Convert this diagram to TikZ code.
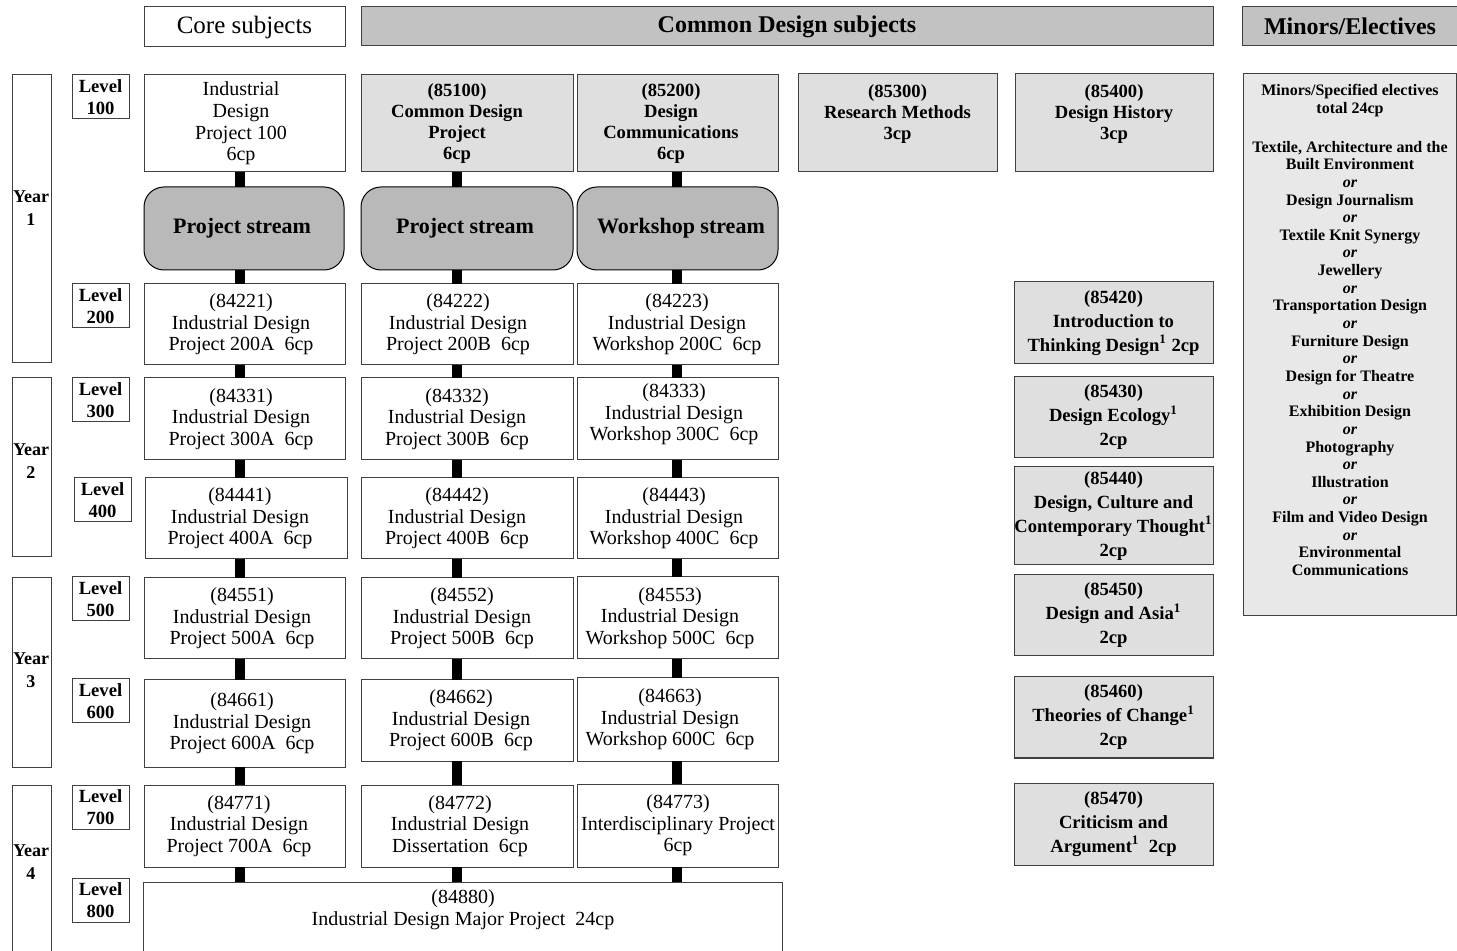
\documentclass[tikz,border=0pt]{standalone}
\usepackage{fontspec}
\setmainfont{Liberation Serif}
\begin{document}
\tikzset{
 base/.style={draw=black!75, line width=0.5pt, inner sep=0pt, outer sep=0pt, align=center, text=black},
 wbox/.style={base, fill=white, font=\fontsize{10}{10.8}\selectfont},
 gbox/.style={base, fill=gray!25, font=\bfseries\fontsize{9.3}{10.5}\selectfont},
 ebox/.style={base, fill=gray!25, font=\bfseries\fontsize{9.3}{12}\selectfont},
 streambox/.style={base, draw=black, fill=gray!55, rounded corners=10pt, font=\bfseries\fontsize{11}{13}\selectfont},
 levelbox/.style={base, fill=white, font=\bfseries\fontsize{9.3}{11}\selectfont},
 yearbox/.style={base, fill=white},
 yeartext/.style={inner sep=0pt, align=center, font=\bfseries\fontsize{9}{11.5}\selectfont},
 hwhite/.style={base, fill=white, font=\fontsize{12.5}{14}\selectfont},
 hgray/.style={base, fill=gray!48, font=\bfseries\fontsize{12}{14}\selectfont},
 minorbox/.style={base, fill=gray!18},
 minortext/.style={inner sep=0pt, align=center, font=\bfseries\fontsize{8}{8.82}\selectfont},
 boxtext/.style={inner sep=0pt, align=center},
 bar/.style={line width=5pt, black, line cap=butt},
}
% box with centred text
\newcommand\bx[7]{\node[#2, minimum width={(#5-#3)*0.5pt}, minimum height={(#6-#4)*0.5pt}] (#1) at ({(#3+#5)/2},{(#4+#6)/2}) {#7};}
% box with text centred at a given x
\newcommand\bxt[8]{\node[#2, minimum width={(#5-#3)*0.5pt}, minimum height={(#6-#4)*0.5pt}] (#1) at ({(#3+#5)/2},{(#4+#6)/2}) {};
 \node[#2, boxtext, draw=none, fill=none] (#1t) at (#7,{(#4+#6)/2}) {#8};}
\begin{tikzpicture}[x=0.5pt,y=-0.5pt]
\clip (0,0) rectangle (1457,951);
\fill[white] (0,0) rectangle (1457,951);
% headers
\bx{hcore}{hwhite}{144}{7}{345}{47}{Core subjects}
\bx{hcommon}{hgray}{361}{7}{1213}{46}{Common Design subjects}
\bx{hminor}{hgray}{1242}{7}{1458}{46}{Minors/Electives}
% years
\bx{y1}{yearbox}{12}{75}{51}{363}{}
\bx{y2}{yearbox}{12}{378}{51}{557}{}
\bx{y3}{yearbox}{12}{578}{51}{767}{}
\bx{y4}{yearbox}{12}{785}{51}{1000}{}
\node[yeartext] (yt1) at (31,208) {Year\\1};
\node[yeartext] (yt2) at (31,461) {Year\\2};
\node[yeartext] (yt3) at (31,670) {Year\\3};
\node[yeartext] (yt4) at (31,862) {Year\\4};
% levels
\bx{l100}{levelbox}{72}{75}{129}{119}{Level\\100}
\bx{l200}{levelbox}{72}{284}{129}{328}{Level\\200}
\bx{l300}{levelbox}{72}{378}{129}{422}{Level\\300}
\bx{l400}{levelbox}{74}{478}{131}{522}{Level\\400}
\bx{l500}{levelbox}{72}{577}{129}{621}{Level\\500}
\bx{l600}{levelbox}{72}{679}{129}{723}{Level\\600}
\bx{l700}{levelbox}{72}{785}{129}{829}{Level\\700}
\bx{l800}{levelbox}{72}{878}{129}{922}{Level\\800}
% column 1
\bxt{a1}{wbox}{144}{75}{345}{172}{241}{Industrial\\Design\\Project 100\\6cp}
\bxt{a2}{streambox}{144}{187}{344}{270}{242}{Project stream}
\bxt{a3}{wbox}{144}{284}{345}{365}{241}{(84221)\\Industrial Design\\Project 200A\enspace 6cp}
\bxt{a4}{wbox}{144}{378}{345}{460}{241}{(84331)\\Industrial Design\\Project 300A\enspace 6cp}
\bxt{a5}{wbox}{145}{478}{347}{559}{240}{(84441)\\Industrial Design\\Project 400A\enspace 6cp}
\bxt{a6}{wbox}{144}{578}{345}{659}{242}{(84551)\\Industrial Design\\Project 500A\enspace 6cp}
\bxt{a7}{wbox}{144}{680}{345}{767}{242}{(84661)\\Industrial Design\\Project 600A\enspace 6cp}
\bxt{a8}{wbox}{144}{785}{345}{867}{239}{(84771)\\Industrial Design\\Project 700A\enspace 6cp}
% column 2
\bxt{b1}{gbox}{361}{75}{573}{172}{457}{(85100)\\Common Design\\Project\\6cp}
\bxt{b2}{streambox}{361}{187}{573}{270}{465}{Project stream}
\bxt{b3}{wbox}{361}{284}{573}{365}{458}{(84222)\\Industrial Design\\Project 200B\enspace 6cp}
\bxt{b4}{wbox}{361}{378}{573}{460}{457}{(84332)\\Industrial Design\\Project 300B\enspace 6cp}
\bxt{b5}{wbox}{361}{478}{573}{559}{457}{(84442)\\Industrial Design\\Project 400B\enspace 6cp}
\bxt{b6}{wbox}{361}{578}{573}{659}{462}{(84552)\\Industrial Design\\Project 500B\enspace 6cp}
\bxt{b7}{wbox}{361}{680}{573}{761}{461}{(84662)\\Industrial Design\\Project 600B\enspace 6cp}
\bxt{b8}{wbox}{361}{785}{573}{867}{460}{(84772)\\Industrial Design\\Dissertation\enspace 6cp}
% column 3
\bxt{c1}{gbox}{577}{75}{778}{172}{671}{(85200)\\Design\\Communications\\6cp}
\bxt{c2}{streambox}{577}{187}{778}{270}{681}{Workshop stream}
\bxt{c3}{wbox}{577}{284}{778}{365}{677}{(84223)\\Industrial Design\\Workshop 200C\enspace 6cp}
\bxt{c4}{wbox}{577}{378}{778}{460}{674}{(84333)\\Industrial Design\\Workshop 300C\enspace 6cp\\[-4pt]}
\bxt{c5}{wbox}{577}{478}{778}{559}{674}{(84443)\\Industrial Design\\Workshop 400C\enspace 6cp}
\bxt{c6}{wbox}{577}{577}{778}{659}{670}{(84553)\\Industrial Design\\Workshop 500C\enspace 6cp}
\bxt{c7}{wbox}{577}{678}{778}{761}{670}{(84663)\\Industrial Design\\Workshop 600C\enspace 6cp}
\bxt{c8}{wbox}{577}{784}{778}{867}{678}{(84773)\\Interdisciplinary Project\\6cp}
% major project
\bx{major}{wbox}{143}{882}{782}{1000}{}
\node[wbox, boxtext, draw=none, fill=none] (majortext) at (463,910) {(84880)\\Industrial Design Major Project\enspace 24cp};
% columns 4 and 5
\bx{d1}{gbox}{798}{74}{997}{172}{(85300)\\Research Methods\\3cp\\\mbox{}}
\bx{e1}{gbox}{1015}{74}{1213}{172}{(85400)\\Design History\\3cp\\\mbox{}}
\bx{e2}{ebox}{1014}{282}{1213}{364}{(85420)\\Introduction to\\Thinking Design\textsuperscript{1} 2cp}
\bx{e3}{ebox}{1014}{377}{1213}{458}{(85430)\\Design Ecology\textsuperscript{1}\\2cp}
\bx{e4}{ebox}{1014}{467}{1213}{565}{(85440)\\Design, Culture and\\Contemporary Thought\textsuperscript{1}\\2cp}
\bx{e5}{ebox}{1014}{575}{1213}{656}{(85450)\\Design and Asia\textsuperscript{1}\\2cp}
\bx{e6}{ebox}{1014}{677}{1213}{758}{(85460)\\Theories of Change\textsuperscript{1}\\2cp}
\bx{e7}{ebox}{1014}{783}{1213}{865}{(85470)\\Criticism and\\Argument\textsuperscript{1}\enspace 2cp}
% minors
\bx{minors}{minorbox}{1243}{74}{1456}{616}{}
\node[minortext, anchor=north] (minorlist) at (1350,84) {Minors/Specified electives\\total 24cp\\[10.6pt]
Textile, Architecture and the\\Built Environment\\\textit{or}\\Design Journalism\\\textit{or}\\Textile Knit Synergy\\\textit{or}\\Jewellery\\\textit{or}\\Transportation Design\\\textit{or}\\Furniture Design\\\textit{or}\\Design for Theatre\\\textit{or}\\Exhibition Design\\\textit{or}\\Photography\\\textit{or}\\Illustration\\\textit{or}\\Film and Video Design\\\textit{or}\\Environmental\\Communications};
% connector axes
\coordinate (axa) at (240,0);
\coordinate (axb) at (457,0);
\coordinate (axc) at (677,0);
% connectors
\foreach \col in {a,b,c}{
  \draw[bar] (ax\col |- \col1.south) -- (ax\col |- \col2.north);
  \draw[bar] (ax\col |- \col2.south) -- (ax\col |- \col3.north);
  \draw[bar] (ax\col |- \col3.south) -- (ax\col |- \col4.north);
  \draw[bar] (ax\col |- \col4.south) -- (ax\col |- \col5.north);
  \draw[bar] (ax\col |- \col5.south) -- (ax\col |- \col6.north);
  \draw[bar] (ax\col |- \col6.south) -- (ax\col |- \col7.north);
  \draw[bar] (ax\col |- \col7.south) -- (ax\col |- \col8.north);
  \draw[bar] (ax\col |- \col8.south) -- (ax\col |- major.north);
}
\end{tikzpicture}
\end{document}
